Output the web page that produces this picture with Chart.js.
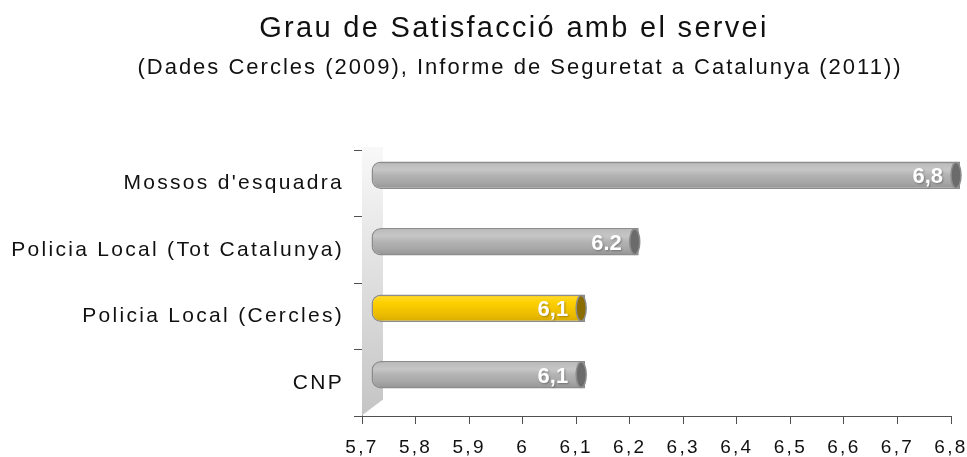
<!DOCTYPE html>
<html lang="ca">
<head>
    <meta charset="UTF-8">
    <title>Grau de Satisfacció amb el servei</title>
    <style>
        body {
            margin: 0;
            padding: 0;
            background-color: #ffffff;
        }
        .chart-box {
            width: 967px;
            height: 457px;
        }
    </style>
    <script src="https://cdn.jsdelivr.net/npm/chart.js"></script>
</head>
<body>
    <div class="chart-box">
        <canvas id="satisfChart"></canvas>
    </div>

    <script>
        // Dades
        const titleText = 'Grau de Satisfacció amb el servei';
        const subtitleText = '(Dades Cercles (2009), Informe de Seguretat a Catalunya (2011))';
        const categories = ["Mossos d'esquadra", 'Policia Local (Tot Catalunya)', 'Policia Local (Cercles)', 'CNP'];
        const values = [6.8, 6.2, 6.1, 6.1];
        const valueLabels = ['6,8', '6.2', '6,1', '6,1'];
        const xMin = 5.7;
        const xMax = 6.8;
        const xStep = 0.1;

        // Estils
        const fontFamily = '"Liberation Sans", Arial, sans-serif';
        const highlightIndex = 2;
        const depthX = 9;
        const depthY = -8;
        const grayStops = [[0, '#999999'], [0.1, '#bdbdbd'], [0.3, '#c6c6c6'], [0.5, '#b3b3b3'], [0.75, '#a7a7a7'], [1, '#939393']];
        const yellowStops = [[0, '#e2b400'], [0.1, '#ffd829'], [0.3, '#fdd000'], [0.55, '#f3c400'], [0.8, '#e7b800'], [1, '#d3a700']];

        function barGradient(c) {
            const chart = c.chart;
            const yScale = chart.scales.y;
            const fallback = c.dataIndex === highlightIndex ? '#f3c400' : '#b3b3b3';
            if (!yScale) return fallback;
            const center = yScale.getPixelForValue(c.dataIndex);
            if (!isFinite(center)) return fallback;
            const g = chart.ctx.createLinearGradient(0, center - 14, 0, center + 14);
            const stops = c.dataIndex === highlightIndex ? yellowStops : grayStops;
            stops.forEach(function(s) { g.addColorStop(s[0], s[1]); });
            return g;
        }

        const cylinderPlugin = {
            id: 'cylinder',
            beforeDraw: function(chart) {
                chart.ctx.letterSpacing = '2.3px';
            },
            beforeDatasetsDraw: function(chart) {
                const ctx = chart.ctx;
                const a = chart.chartArea;
                // paret lateral en 3D
                ctx.save();
                const g = ctx.createLinearGradient(0, a.top, 0, a.bottom);
                g.addColorStop(0, '#f8f8f8');
                g.addColorStop(1, '#c4c4c4');
                ctx.fillStyle = g;
                ctx.beginPath();
                ctx.moveTo(a.left, a.top - 3);
                ctx.lineTo(a.left + 21, a.top - 3);
                ctx.lineTo(a.left + 21, a.bottom - 16);
                ctx.lineTo(a.left, a.bottom);
                ctx.closePath();
                ctx.fill();
                ctx.strokeStyle = '#ffffff';
                ctx.lineWidth = 1;
                ctx.beginPath();
                ctx.moveTo(a.left + 1, a.bottom - 1);
                ctx.lineTo(a.left + 21, a.bottom - 16);
                ctx.stroke();
                ctx.restore();

                ctx.save();
                ctx.translate(depthX, depthY);
            },
            afterDatasetsDraw: function(chart) {
                const ctx = chart.ctx;
                const meta = chart.getDatasetMeta(0);
                meta.data.forEach(function(bar, i) {
                    const h = bar.height;
                    // tapa del cilindre
                    ctx.save();
                    ctx.beginPath();
                    ctx.ellipse(bar.x - 4, bar.y, 5, h / 2 - 1, 0, 0, Math.PI * 2);
                    ctx.fillStyle = i === highlightIndex ? '#8a6c00' : '#6b6b6b';
                    ctx.fill();
                    ctx.strokeStyle = '#8c8c8c';
                    ctx.lineWidth = 1.5;
                    ctx.stroke();
                    ctx.restore();

                    // etiqueta
                    ctx.save();
                    ctx.letterSpacing = '0px';
                    ctx.font = 'bold 22px ' + fontFamily;
                    ctx.textAlign = 'right';
                    ctx.textBaseline = 'middle';
                    ctx.shadowColor = 'rgba(0,0,0,0.3)';
                    ctx.shadowBlur = 2;
                    ctx.shadowOffsetX = 1;
                    ctx.shadowOffsetY = 1;
                    ctx.fillStyle = '#ffffff';
                    ctx.fillText(valueLabels[i], bar.x - 17, bar.y + 2);
                    ctx.restore();
                });
                ctx.restore();
            },
            afterDraw: function(chart) {
                const ctx = chart.ctx;
                ctx.save();
                ctx.fillStyle = '#111111';
                ctx.textAlign = 'center';
                ctx.textBaseline = 'alphabetic';
                ctx.letterSpacing = '2.3px';
                ctx.font = '29px ' + fontFamily;
                ctx.fillText(titleText, 514, 37);
                ctx.letterSpacing = '2px';
                ctx.font = '22px ' + fontFamily;
                ctx.fillText(subtitleText, 520, 74);
                ctx.restore();
                ctx.letterSpacing = '0px';
            }
        };

        window.onload = function() {
            const ctx = document.getElementById('satisfChart').getContext('2d');
            const satisfChart = new Chart(ctx, {
                type: 'bar',
                data: {
                    labels: categories,
                    datasets: [{
                        data: values,
                        base: xMin,
                        backgroundColor: barGradient,
                        borderColor: '#8c8c8c',
                        borderWidth: 1.5,
                        borderSkipped: false,
                        borderRadius: { topLeft: 9, bottomLeft: 9, topRight: 0, bottomRight: 0 },
                        barPercentage: 0.41,
                        categoryPercentage: 1,
                        clip: false
                    }]
                },
                options: {
                    indexAxis: 'y',
                    responsive: true,
                    maintainAspectRatio: false,
                    animation: false,
                    layout: {
                        padding: { top: 150, bottom: 0, left: 0, right: 0 }
                    },
                    plugins: {
                        legend: { display: false },
                        tooltip: { enabled: false }
                    },
                    scales: {
                        x: {
                            type: 'linear',
                            min: xMin,
                            max: xMax,
                            border: { color: '#505050', width: 1 },
                            grid: {
                                drawOnChartArea: false,
                                color: '#505050',
                                tickLength: 8
                            },
                            ticks: {
                                stepSize: xStep,
                                padding: 12,
                                color: '#111111',
                                font: { family: fontFamily, size: 19 },
                                callback: function(v) {
                                    return String(Math.round(v * 10) / 10).replace('.', ',');
                                }
                            },
                            afterFit: function(scale) {
                                scale.height = 41;
                                scale.paddingRight = 16;
                            }
                        },
                        y: {
                            border: { color: '#505050', width: 1 },
                            grid: {
                                drawOnChartArea: false,
                                color: '#505050',
                                tickLength: 8
                            },
                            ticks: {
                                padding: 10,
                                color: '#111111',
                                font: { family: fontFamily, size: 21 }
                            },
                            afterFit: function(scale) { scale.width = 362; }
                        }
                    }
                },
                plugins: [cylinderPlugin]
            });
        };
    </script>
</body>
</html>
